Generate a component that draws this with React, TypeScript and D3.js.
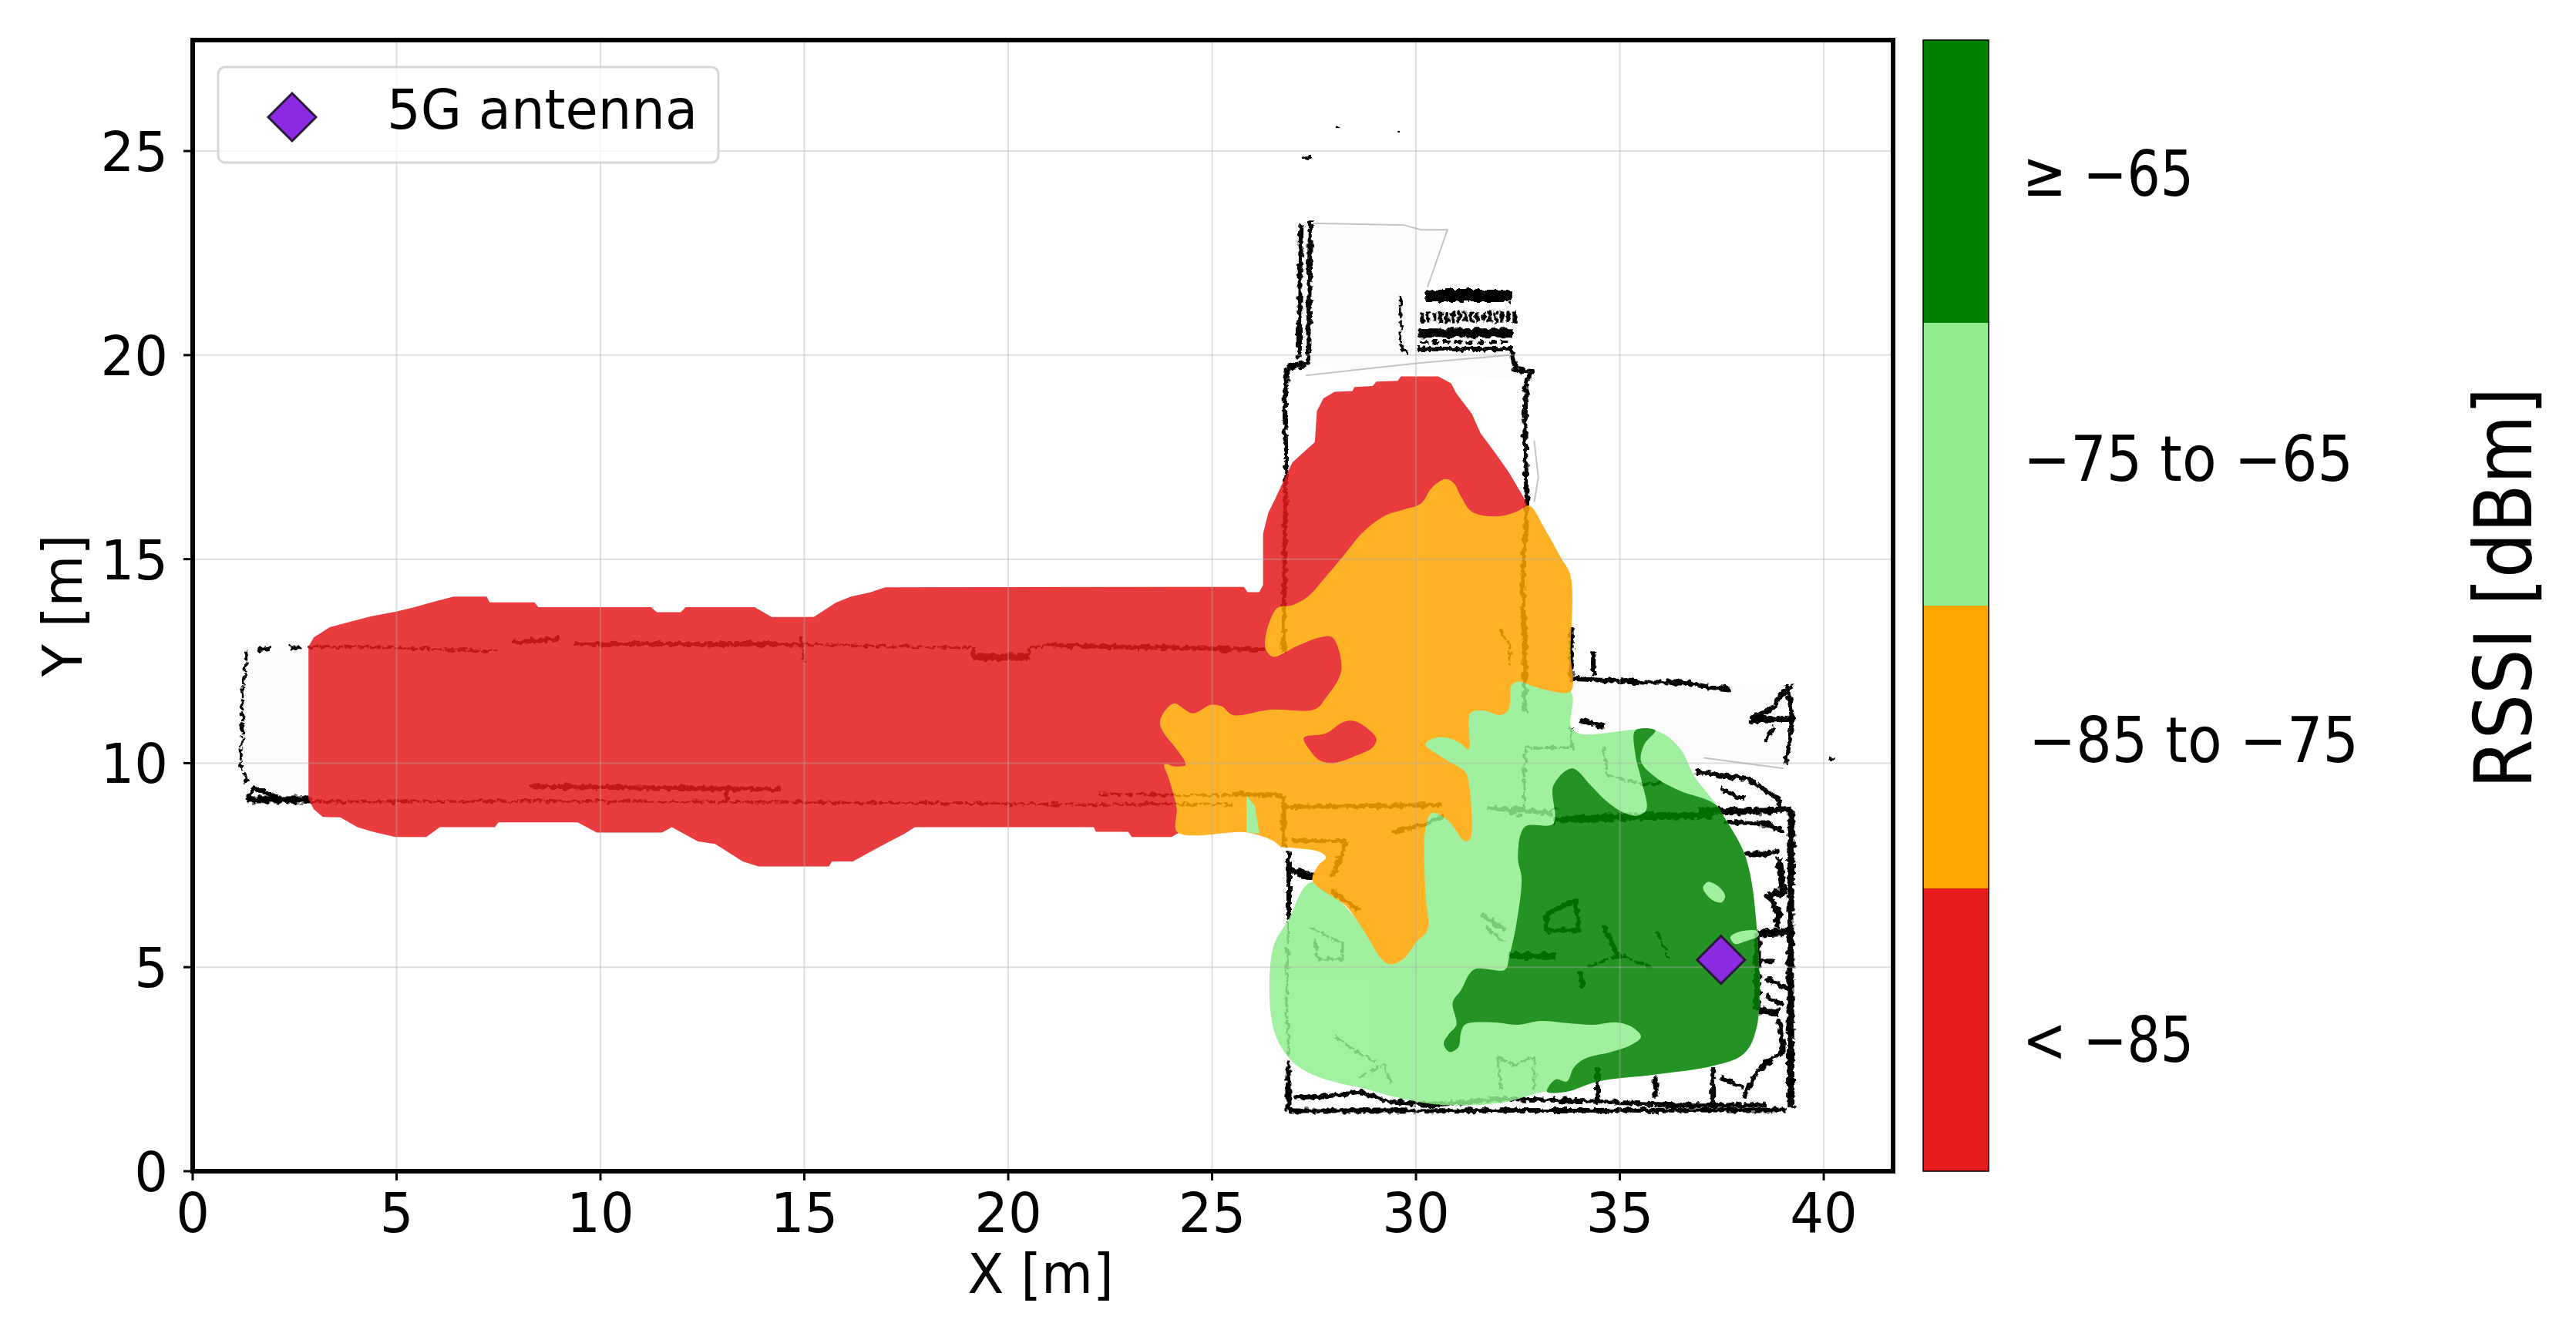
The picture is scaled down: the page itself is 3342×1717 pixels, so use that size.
import * as d3 from "d3";

type Pt = [number, number];

const WIDTH = 3342;
const HEIGHT = 1717;
const margin = { top: 52, right: 886, bottom: 197, left: 250 };

const xDomain: Pt = [0, 41.7];
const yDomain: Pt = [0, 27.72];
const xTicks = [0, 5, 10, 15, 20, 25, 30, 35, 40];
const yTicks = [0, 5, 10, 15, 20, 25];

// RSSI classes, bottom to top of the colour bar
const classColors = ["#e41a1c", "#ffa500", "#90ee90", "#008000"];
const classLabels = ["< \u221285", "\u221285 to \u221275", "\u221275 to \u221265", "\u2265 \u221265"];
const classLabelX = [2624, 2632, 2625, 2624];
const classLabelBaseline = [1378, 989, 624, 254];
const classLabelWidth = [222, 428, 428, 222];

const antenna: Pt = [37.48, 5.18];

// contour outlines in metres
const redZone: Pt[] = [
  [2.84, 12.86], [2.97, 13.08], [3.36, 13.33], [3.84, 13.46], [4.38, 13.6], [4.97, 13.71],
  [5.44, 13.82], [5.89, 13.95], [6.4, 14.08], [7.21, 14.08], [7.28, 13.94], [8.38, 13.94],
  [8.48, 13.82], [11.24, 13.82], [11.38, 13.7], [11.97, 13.7], [12.09, 13.82], [13.78, 13.82],
  [14.2, 13.58], [15.23, 13.58], [15.77, 13.93], [16.14, 14.08], [16.6, 14.18], [16.98, 14.31],
  [25.78, 14.32], [25.87, 14.19], [26.16, 14.19], [26.25, 14.37], [26.25, 15.63], [26.38, 16.14],
  [26.54, 16.46], [26.81, 17.04], [26.97, 17.37], [27.52, 17.87], [27.57, 18.63], [27.73, 18.94],
  [28.0, 19.1], [28.44, 19.12], [28.49, 19.22], [28.93, 19.24], [29.03, 19.35], [29.55, 19.37],
  [29.63, 19.48], [30.55, 19.48], [30.86, 19.31], [30.99, 19.06], [31.37, 18.56], [31.58, 18.09],
  [31.96, 17.58], [32.29, 17.11], [32.67, 16.46], [32.72, 16.32], [31, 13], [28, 10], [26, 8.6],
  [24.2, 8.3], [24.0, 8.19], [23.03, 8.19], [22.94, 8.32], [22.15, 8.32], [22.1, 8.43],
  [17.71, 8.43], [17.46, 8.27], [17.03, 8.05], [16.61, 7.82], [16.19, 7.59], [15.68, 7.59],
  [15.6, 7.47], [13.88, 7.47], [13.49, 7.59], [12.81, 8.02], [12.39, 8.08], [11.75, 8.43],
  [11.51, 8.3], [9.91, 8.3], [9.44, 8.55], [7.5, 8.55], [7.41, 8.43], [6.06, 8.43],
  [5.73, 8.19], [4.97, 8.19], [4.49, 8.3], [4.04, 8.43], [3.62, 8.67], [3.19, 8.68],
  [2.97, 8.87], [2.84, 9.12],
];

const orangeZone: Pt[] = [
  [23.72, 11.01], [23.94, 11.39], [24.1, 11.46], [24.28, 11.35], [24.53, 11.22], [24.97, 11.43],
  [25.24, 11.39], [25.51, 11.18], [26.43, 11.31], [27.52, 11.32], [27.79, 11.6], [28.17, 12.28],
  [27.95, 13.08], [27.68, 13.09], [27.08, 12.87], [26.49, 12.61], [26.3, 12.86], [26.59, 13.8],
  [26.97, 13.87], [27.35, 14.08], [27.68, 14.44], [28.17, 15.02], [28.71, 15.67], [29.25, 16.07],
  [29.69, 16.21], [30.12, 16.36], [30.39, 16.75], [30.72, 16.96], [30.93, 16.86], [31.1, 16.54],
  [31.37, 16.16], [32.02, 16.05], [32.5, 16.18], [32.78, 16.31], [33.16, 15.74], [33.54, 15.06],
  [33.79, 14.59], [33.79, 12.71], [33.79, 11.76], [33.16, 11.8], [32.83, 11.9], [32.51, 12.0],
  [32.34, 11.9], [32.27, 11.31], [32.07, 11.18], [31.64, 11.29], [31.33, 11.22], [31.29, 10.34],
  [31.1, 10.48], [30.77, 10.62], [30.44, 10.61], [30.23, 10.46], [30.66, 10.13], [31.2, 9.79],
  [31.29, 9.54], [31.37, 8.52], [31.33, 8.15], [31.2, 8.09], [30.77, 8.61], [30.39, 8.78],
  [30.23, 8.36], [30.23, 6.84], [30.28, 5.91], [30.01, 5.62], [29.69, 5.2], [29.41, 5.07],
  [29.2, 5.15], [28.71, 5.91], [28.28, 6.5], [27.46, 7.13], [27.62, 7.51], [27.79, 7.68],
  [27.68, 7.81], [26.92, 7.93], [26.7, 7.95], [26.49, 8.1], [26.16, 8.23], [25.78, 8.31],
  [24.15, 8.31], [24.13, 8.9], [23.94, 9.62], [23.83, 9.97], [24.1, 9.92], [24.35, 9.96],
  [24.1, 10.38], [23.83, 10.72],
];

const redIsland: Pt[] = [
  [27.25, 10.62], [27.79, 10.73], [28.22, 11.01], [28.49, 11.03], [28.82, 10.84], [29.03, 10.59],
  [28.93, 10.38], [28.6, 10.21], [27.95, 10.0], [27.62, 10.08], [27.41, 10.3],
];

const lightGreenZone: Pt[] = [
  [27.46, 7.09], [26.87, 6.16], [26.49, 5.45], [26.49, 3.55], [26.87, 2.79], [27.3, 2.45],
  [27.95, 2.2], [28.71, 2.03], [29.47, 1.82], [30.34, 1.65], [31.2, 1.61], [32.18, 1.69],
  [33.16, 1.95], [33.7, 1.95], [34.46, 2.2], [35.87, 2.37], [37.28, 2.58], [38.04, 2.88],
  [38.36, 3.55], [38.36, 5.91], [38.09, 7.68], [37.6, 8.61], [37.33, 9.03], [36.84, 9.66],
  [36.46, 10.38], [35.87, 10.8], [34.02, 10.72], [33.8, 10.89], [33.79, 11.77], [32.3, 12.1],
  [31.0, 11.2], [30.0, 10.5], [30.0, 6.0], [29.4, 5.5],
];

const greenSliver: Pt[] = [
  [25.84, 9.22], [26.05, 8.95], [26.16, 8.27], [25.84, 8.31],
];

const darkGreenZone: Pt[] = [
  [33.83, 9.87], [34.29, 9.45], [34.67, 9.07], [35.11, 8.78], [35.43, 8.71], [35.65, 8.86],
  [35.54, 9.54], [35.38, 10.21], [35.38, 10.8], [35.87, 10.8], [35.6, 10.46], [35.52, 10.04],
  [35.92, 9.62], [36.46, 9.33], [37.33, 9.0], [37.6, 8.61], [38.09, 7.68], [38.36, 5.91],
  [38.36, 3.55], [38.04, 2.88], [37.28, 2.58], [35.87, 2.37], [34.46, 2.2], [33.7, 1.95],
  [33.21, 1.95], [33.43, 2.25], [33.7, 2.2], [33.87, 2.54], [34.13, 2.75], [34.78, 2.92],
  [35.27, 3.09], [35.52, 3.3], [35.27, 3.55], [34.89, 3.65], [34.35, 3.59], [33.7, 3.63],
  [33.05, 3.68], [32.51, 3.59], [31.85, 3.65], [31.2, 3.59], [31.1, 3.38], [31.04, 3.04],
  [30.82, 2.92], [30.68, 3.13], [30.82, 3.38], [30.99, 3.59], [30.9, 4.14], [31.1, 4.43],
  [31.42, 4.94], [32.18, 4.94], [32.29, 5.28], [32.45, 5.99], [32.59, 7.18], [32.5, 7.68],
  [32.67, 8.44], [33.37, 8.52], [33.37, 9.45],
];

const greenOval: Pt[] = [
  [37.17, 7.09], [37.44, 6.96], [37.58, 6.75], [37.5, 6.59], [37.3, 6.63], [37.11, 6.8], [37.04, 6.96],
];
const greenStreak: Pt[] = [
  [37.71, 5.74], [37.93, 5.87], [38.36, 5.89], [38.41, 5.78], [38.03, 5.62], [37.82, 5.57],
];

// floor plan scan, drawn under the contours
const floorFill: Pt[][] = [
  [[1.34, 12.8], [2.9, 12.86], [2.9, 9.1], [1.34, 9.1], [1.2, 10.6]],
  [[27.3, 23.2], [30.7, 23.1], [30.2, 21.5], [32.3, 20], [32.7, 19.4], [27, 19.7]],
  [[33.8, 12.0], [39.1, 11.9], [39.1, 10], [33.8, 10]],
];

const wallsThick: Pt[][] = [
  [[1.34, 9.1], [2.9, 9.1]],
  [[26.84, 19.71], [27.3, 19.78]],
  [[39.21, 8.86], [39.18, 5.6], [39.2, 1.57]],
  [[36.9, 8.84], [38.0, 8.82], [39.2, 8.86]],
  [[26.9, 7.4], [27.5, 7.2]],
  [[32.29, 5.28], [33.42, 5.28]],
  [[19.15, 12.6], [20.5, 12.6]],
  [[33.37, 8.6], [35.1, 8.68], [37.3, 8.72]],
  [[38.2, 11.05], [39.2, 11.08]],
  [[38.38, 5.83], [39.14, 5.87]],
  [[38.41, 3.93], [38.9, 3.89]],
  [[38.9, 7.68], [39.01, 6.84], [38.63, 6.75], [38.9, 6.33], [38.85, 5.95]],
  [[38.38, 5.83], [38.36, 3.93]],
];

const wallsMedium: Pt[][] = [
  [[26.84, 19.71], [26.78, 18.92], [26.8, 18.1], [26.81, 17.11], [26.78, 15.31], [26.76, 12.71]],
  [[27.41, 23.28], [27.38, 21.5], [27.35, 19.78]],
  [[27.19, 23.21], [27.16, 22.1], [27.14, 19.93]],
  [[32.34, 20.11], [32.45, 19.64], [32.83, 19.6], [32.7, 19.35], [32.67, 18.2], [32.72, 16.32]],
  [[32.72, 16.32], [32.61, 14.5], [32.67, 12.71], [32.67, 11.22]],
  [[33.81, 13.33], [33.81, 12.07], [35.54, 11.98], [36.52, 11.98], [37.28, 11.85], [37.71, 11.81]],
  [[34.35, 12.74], [34.35, 12.15]],
  [[38.2, 11.1], [38.55, 11.22], [38.8, 11.39], [38.95, 11.7], [39.23, 11.88]],
  [[39.12, 11.9], [39.23, 11.05], [39.07, 9.96]],
  [[38.58, 10.55], [38.8, 10.89]],
  [[34.02, 11.05], [34.62, 10.89]],
  [[36.84, 9.79], [38.15, 9.62], [38.9, 9.11], [38.95, 8.9]],
  [[37.49, 9.37], [38.04, 9.11]],
  [[26.88, 1.48], [39.1, 1.5]],
  [[26.87, 2.71], [26.87, 1.48]],
  [[26.88, 7.85], [26.88, 6.16]],
  [[27.0, 1.8], [28.0, 1.86], [28.6, 1.95], [29.3, 1.72], [30.34, 1.62], [32.18, 1.78], [34.8, 1.69], [36.3, 1.62], [38.6, 1.62]],
  [[34.46, 2.55], [34.46, 1.7]],
  [[35.87, 2.35], [35.87, 1.8]],
  [[37.28, 2.55], [37.28, 1.62]],
  [[37.49, 2.28], [38.04, 2.03]],
  [[38.9, 3.72], [39.01, 2.96], [38.36, 2.45], [38.04, 1.82]],
  [[37.6, 8.56], [38.58, 8.52], [39.01, 8.31]],
  [[38.9, 7.85], [38.58, 7.77], [38.04, 7.77]],
  [[38.41, 5.15], [38.79, 5.15]],
  [[38.58, 4.73], [39.12, 4.48]],
  [[38.58, 4.31], [39.01, 4.06]],
  [[26.76, 9.2], [26.76, 7.95]],
  [[1.34, 9.1], [1.5, 9.4], [1.7, 9.3], [2.1, 9.15]],
  [[23.6, 12.84], [26.3, 12.78]],
  [[25.5, 9.25], [26.76, 9.2]],
  [[26.8, 8.93], [30.6, 8.97]],
  [[31.75, 8.9], [33.37, 8.78]],
  [[8.26, 9.43], [10.5, 9.4], [12.5, 9.38], [14.42, 9.36]],
  [[13.1, 9.1], [13.1, 9.4]],
  [[1.6, 12.77], [1.9, 12.82]],
  [[2.4, 12.8], [2.65, 12.86]],
  [[7.84, 12.96], [9.02, 13.05]],
  [[9.35, 12.92], [14.92, 12.91]],
  [[21, 12.89], [23.6, 12.83]],
  [[28.3, 8.1], [27.95, 7.22]],
  [[26.95, 8.1], [28.3, 8.1]],
  [[27.9, 6.9], [28.6, 6.4]],
  [[29.4, 8.3], [30.2, 8.5], [30.7, 8.7]],
  [[31.6, 6.3], [32.2, 5.9]],
  [[33.2, 6.3], [33.9, 6.65], [34.0, 5.9], [33.2, 5.9], [33.2, 6.3]],
  [[34.6, 6.0], [35.0, 5.2]],
  [[34.0, 4.9], [34.1, 4.5]],
];

const wallsThin: Pt[][] = [
  [[1.34, 12.77], [1.22, 11.7], [1.22, 10.63], [1.17, 9.94], [1.34, 9.53]],
  [[2.84, 12.86], [4.97, 12.83], [7.5, 12.74]],
  [[14.92, 12.91], [18.97, 12.83], [19.15, 12.83], [19.15, 12.55]],
  [[20.5, 12.55], [20.5, 12.83], [21, 12.89]],
  [[14.92, 13.1], [15.0, 12.45]],
  [[2.9, 9.05], [9.1, 9.07], [14.0, 9.05], [18.0, 9.02], [22.2, 8.98], [24.2, 9.0], [25.5, 9.0]],
  [[22.2, 9.25], [25.5, 9.2]],
  [[29.61, 21.48], [29.63, 20.25], [29.79, 20.04]],
  [[32.05, 13.3], [32.3, 12.9], [32.3, 12.4]],
  [[33.8, 10.89], [33.85, 10.38], [32.7, 10.38], [32.65, 9.6], [32.65, 8.8]],
  [[34.6, 10.4], [34.7, 9.7], [35.5, 9.5], [36.0, 9.5]],
  [[31.9, 8.95], [32.6, 8.7]],
  [[33.2, 8.8], [33.5, 8.9]],
  [[26.87, 6.1], [26.82, 4.0], [26.9, 2.8]],
  [[27.4, 6.0], [27.9, 5.7], [28.2, 5.6], [28.2, 5.2], [27.6, 5.2], [27.5, 5.7]],
  [[28.0, 3.3], [28.6, 2.9], [29.0, 2.7]],
  [[28.6, 2.3], [29.2, 2.6], [29.4, 2.1]],
  [[32.0, 2.8], [32.4, 2.6], [32.9, 2.8], [32.9, 2.0]],
  [[32.0, 2.8], [32.1, 2.0]],
  [[31.7, 6.0], [32.2, 5.6]],
  [[34.2, 5.0], [35.0, 5.3], [35.8, 5.0]],
  [[35.9, 5.9], [36.2, 5.2]],
  [[28.03, 25.56], [28.15, 25.56]],
  [[29.55, 25.48], [29.62, 25.48]],
  [[27.2, 24.84], [27.5, 24.86]],
  [[40.12, 10.1], [40.24, 10.1]],
];

const wallsFaint: Pt[][] = [
  [[27.41, 23.23], [29.69, 23.19], [30.12, 23.07], [30.77, 23.07], [30.28, 21.66]],
  [[27.3, 19.5], [30.0, 19.8], [32.3, 20.0]],
  [[32.9, 17.9], [33.0, 17.0], [32.9, 16.4]],
  [[37.06, 10.13], [39.01, 9.87]],
];

// shelves at the top of the scan: [x1, x2, y, thickness in px, dash]
const shelves: [number, number, number, number, string][] = [
  [30.23, 32.34, 21.45, 16, ""],
  [30.1, 32.45, 20.93, 14, "5 3"],
  [30.05, 32.36, 20.54, 12, ""],
  [30.1, 32.34, 20.32, 4, "9 6"],
  [30.05, 32.36, 20.15, 6, ""],
];

const innerW = WIDTH - margin.left - margin.right;
const innerH = HEIGHT - margin.top - margin.bottom;
const x = d3.scaleLinear().domain(xDomain).range([margin.left, margin.left + innerW]);
const y = d3.scaleLinear().domain(yDomain).range([margin.top + innerH, margin.top]);

const linePath = d3.line<Pt>().x((d) => x(d[0])).y((d) => y(d[1]));
const stepOutline = d3.line<Pt>().x((d) => x(d[0])).y((d) => y(d[1])).curve(d3.curveLinearClosed);
const softOutline = d3.line<Pt>().x((d) => x(d[0])).y((d) => y(d[1])).curve(d3.curveCatmullRomClosed.alpha(0.5));
const diamond = d3.symbol().type(d3.symbolSquare).size(1922)() ?? "";

const barScale = d3.scaleBand<number>().domain([3, 2, 1, 0]).range([margin.top, margin.top + innerH]);

const contourAlpha = 0.85;
const textFont = "'DejaVu Sans', sans-serif";

function Label({ px, py, size, rotate = 0, anchor = "start", squeeze = 0.955, length, children }: {
  px: number;
  py: number;
  size: number;
  rotate?: number;
  anchor?: string;
  squeeze?: number;
  length?: number;
  children: string;
}) {
  // the reference's glyphs are narrower than the regular face
  const stretch = length ? "" : ` scale(${squeeze},1)`;
  return (
    <text
      transform={`translate(${px},${py}) rotate(${rotate})${stretch}`}
      fontFamily={textFont}
      fontSize={size}
      textAnchor={anchor}
      fill="#000"
      textLength={length}
      lengthAdjust={length ? "spacingAndGlyphs" : undefined}
    >
      {children}
    </text>
  );
}

export default function App() {
  return (
    <svg
      width={WIDTH}
      height={HEIGHT}
      viewBox={`0 0 ${WIDTH} ${HEIGHT}`}
      style={{ position: "absolute", left: 0, top: 0, background: "#fff" }}
    >
      <defs>
        {/* rough edges of the laser scan */}
        <filter id="scan" filterUnits="userSpaceOnUse" x={0} y={0} width={WIDTH} height={HEIGHT}>
          <feTurbulence type="fractalNoise" baseFrequency={0.14} numOctaves={2} seed={4} result="n" />
          <feDisplacementMap in="SourceGraphic" in2="n" scale={9} xChannelSelector="R" yChannelSelector="G" />
        </filter>
      </defs>

      {/* floor plan */}
      {floorFill.map((d, i) => (
        <path key={i} d={stepOutline(d) ?? ""} fill="#fcfcfc" />
      ))}
      <g fill="none" stroke="#c4c4c4" strokeWidth={2}>
        {wallsFaint.map((d, i) => (
          <path key={i} d={linePath(d) ?? ""} />
        ))}
      </g>
      <g fill="none" stroke="#000" strokeLinejoin="round" filter="url(#scan)">
        {wallsThin.map((d, i) => (
          <path key={i} d={linePath(d) ?? ""} strokeWidth={3.5} strokeDasharray="14 2" />
        ))}
        {wallsMedium.map((d, i) => (
          <path key={i} d={linePath(d) ?? ""} strokeWidth={6} />
        ))}
        {wallsThick.map((d, i) => (
          <path key={i} d={linePath(d) ?? ""} strokeWidth={9} />
        ))}
        {shelves.map(([x1, x2, yv, w, dash], i) => (
          <line key={i} x1={x(x1)} x2={x(x2)} y1={y(yv)} y2={y(yv)} strokeWidth={w} strokeDasharray={dash} />
        ))}
      </g>

      {/* coverage contours, painted as one layer */}
      <g opacity={contourAlpha}>
        <path d={stepOutline(redZone) ?? ""} fill={classColors[0]} />
        <path d={softOutline(lightGreenZone) ?? ""} fill={classColors[2]} />
        <path d={softOutline(orangeZone) ?? ""} fill={classColors[1]} />
        <path d={softOutline(redIsland) ?? ""} fill={classColors[0]} />
        <path d={stepOutline(greenSliver) ?? ""} fill={classColors[2]} />
        <path d={softOutline(darkGreenZone) ?? ""} fill={classColors[3]} />
        <path d={softOutline(greenOval) ?? ""} fill={classColors[2]} />
        <path d={softOutline(greenStreak) ?? ""} fill={classColors[2]} />
      </g>

      {/* grid */}
      <g stroke="#b0b0b0" strokeOpacity={0.4} strokeWidth={2}>
        {xTicks.map((t) => (
          <line key={t} x1={x(t)} x2={x(t)} y1={margin.top} y2={margin.top + innerH} />
        ))}
        {yTicks.map((t) => (
          <line key={t} x1={margin.left} x2={margin.left + innerW} y1={y(t)} y2={y(t)} />
        ))}
      </g>

      {/* antenna */}
      <path
        d={diamond}
        transform={`translate(${x(antenna[0])},${y(antenna[1])}) rotate(45)`}
        fill="#8a2be2"
        stroke="#2a1a3a"
        strokeWidth={3}
      />

      {/* frame and ticks */}
      <rect
        x={margin.left}
        y={margin.top}
        width={innerW}
        height={innerH}
        fill="none"
        stroke="#000"
        strokeWidth={6}
      />
      {xTicks.map((t) => (
        <g key={t}>
          <line x1={x(t)} x2={x(t)} y1={margin.top + innerH} y2={margin.top + innerH + 12} stroke="#000" strokeWidth={3} />
          <Label px={x(t)} py={1599} size={72} anchor="middle">{String(t)}</Label>
        </g>
      ))}
      {yTicks.map((t) => (
        <g key={t}>
          <line x1={margin.left - 12} x2={margin.left} y1={y(t)} y2={y(t)} stroke="#000" strokeWidth={3} />
          <Label px={218} py={y(t) + 26} size={72} anchor="end">{String(t)}</Label>
        </g>
      ))}
      <Label px={1350} py={1678} size={72} anchor="middle">X [m]</Label>
      <Label px={106} py={786} size={72} rotate={-90} anchor="middle">Y [m]</Label>

      {/* legend */}
      <rect x={283} y={87} width={649} height={124} rx={9} fill="#fff" fillOpacity={0.8} stroke="#ccc" strokeOpacity={0.8} strokeWidth={3} />
      <path d={diamond} transform="translate(379,152) rotate(45)" fill="#8a2be2" stroke="#2a1a3a" strokeWidth={3} />
      <Label px={502} py={167} size={72}>5G antenna</Label>

      {/* colour bar */}
      {classColors.map((c, i) => (
        <rect key={c} x={2495} y={barScale(i)} width={85} height={barScale.bandwidth()} fill={c} />
      ))}
      <rect x={2495} y={margin.top} width={85} height={innerH} fill="none" stroke="#000" strokeWidth={1.5} />
      {classLabels.map((label, i) => (
        <Label key={label} px={classLabelX[i]} py={classLabelBaseline[i]} size={82} length={classLabelWidth[i]}>{label}</Label>
      ))}
      <Label px={3284} py={763} size={103} rotate={-90} anchor="middle" squeeze={0.895}>RSSI [dBm]</Label>
    </svg>
  );
}
